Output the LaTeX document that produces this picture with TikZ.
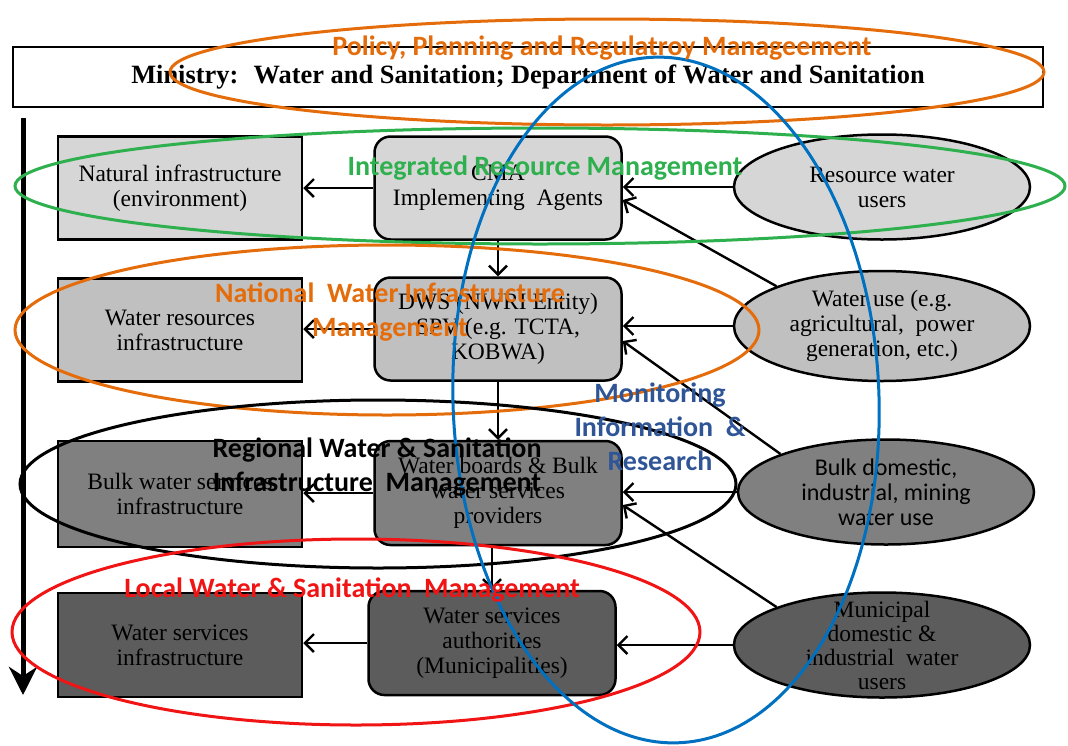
\documentclass[tikz,border=0pt]{standalone}
\usepackage{fontspec}
\setmainfont{Liberation Serif}
\newfontfamily\calibri{Carlito}
\usetikzlibrary{arrows.meta,shapes.geometric}
\definecolor{orng}{HTML}{E46C0A}
\definecolor{grn}{HTML}{2EB04E}
\definecolor{rd}{HTML}{F01414}
\definecolor{blu}{HTML}{0070C0}
\definecolor{dblu}{HTML}{2F5597}
\definecolor{gA}{HTML}{D6D6D6}
\definecolor{gB}{HTML}{C0C0C0}
\definecolor{gC}{HTML}{808080}
\definecolor{gD}{HTML}{5C5C5C}
\begin{document}
\begin{tikzpicture}[x=1pt,y=-1pt,
  box/.style={draw,line width=2.5pt,minimum width=244pt,minimum height=103pt,align=center,inner sep=2pt,font=\fontsize{23.5}{25}\selectfont},
  rbox/.style={box,minimum width=247pt,rounded corners=16pt},
  oval/.style={ellipse,draw,line width=2.5pt,minimum width=296pt,minimum height=105pt,inner sep=0pt},
  ovaltxt/.style={align=center,font=\fontsize{23.5}{25}\selectfont},
  link/.style={line width=2.4pt,-{Straight Barb[length=9pt,width=18pt]}},
  ring/.style={line width=3pt},
  tag/.style={align=center,font=\calibri\bfseries\fontsize{28}{34}\selectfont}]
\useasboundingbox[fill=white] (0,0) rectangle (1068,745);

\node[draw,line width=2.5pt,minimum width=1030pt,minimum height=60pt,font=\bfseries\fontsize{26.4}{30}\selectfont] (ministry) at (528,77)
  {Ministry:~ Water and Sanitation; Department of Water and Sanitation};

\coordinate (flowtop) at (23,118);
\coordinate (flowend) at (23,695);
\draw[line width=5pt,-{Stealth[length=28pt,width=28pt,inset=9pt]}] (flowtop) -- (flowend);

% left column
\node[box,fill=gA] (nat) at (180,188) {Natural infrastructure\\(environment)};
\node[box,fill=gB] (wri) at (180,330) {Water resources\\infrastructure};
\node[box,fill=gC,minimum height=106pt] (bwsi) at (180,494) {Bulk water services\\infrastructure};
\node[box,fill=gD,minimum height=104pt] (wsi) at (180,645) {Water services\\infrastructure};

% middle column
\node[rbox,fill=gA] (cma) at (498,188) {CMA\\Implementing~ Agents};
\node[rbox,fill=gB] (dws) at (498,329) {DWS (NWRI Entity)\\SPV (e.g. TCTA,\\KOBWA)};
\node[rbox,fill=gC,minimum height=104pt] (wb) at (498,493) {Water boards \& Bulk\\water services\\providers};
\node[rbox,fill=gD,minimum height=104pt] (wsa) at (492,643) {Water services\\authorities\\(Municipalities)};

% water users
\node[oval,fill=gA] (res) at (882,187) {};
\node[ovaltxt] at (res) {Resource water\\users};
\node[oval,fill=gB,minimum height=110pt] (use) at (882,326) {};
\node[ovaltxt] at (use) {Water use (e.g.\\agricultural,~ power\\generation, etc.)};
\node[oval,fill=gC] (bulk) at (886,492) {};
\node[ovaltxt,font=\calibri\fontsize{24}{25}\selectfont] at (bulk) {Bulk domestic,\\industrial, mining\\water use};
\node[oval,fill=gD] (mun) at (882,645) {};
\node[ovaltxt,font=\fontsize{23.5}{24}\selectfont] at (mun) {Municipal\\domestic \&\\industrial~ water\\users};

\draw[link] (cma.west) -- (cma.west -| nat.east);
\draw[link] (dws.west) -- (dws.west -| wri.east);
\draw[link] (wb.west) -- (wb.west -| bwsi.east);
\draw[link] (wsa.west) -- (wsa.west -| wsi.east);
\draw[link] (cma) -- (dws);
\draw[link] (dws) -- (wb);
\draw[link] (wb.south -| wsa.north) -- (wsa.north);
\draw[link] (res.west) -- (res.west -| cma.east);
\draw[link] (use.west) -- (use.west -| dws.east);
\draw[link] (bulk.west) -- (bulk.west -| wb.east);
\draw[link] (mun.west) -- (mun.west -| wsa.east);
\draw[link] (use.north west) -- ([yshift=-12pt]cma.east);
\draw[link] (bulk.north west) -- ([yshift=-12pt]dws.east);
\draw[link] (mun.north west) -- ([yshift=-12pt]wb.east);

% management levels
\draw[ring,orng] (607,72) ellipse [x radius=437,y radius=53];
\draw[ring,grn] (540,186) ellipse [x radius=525,y radius=58];
\draw[ring,orng] (387,330) ellipse [x radius=372,y radius=85];
\draw[ring,black] (378,484) ellipse [x radius=358,y radius=84];
\draw[ring,rd] (356,632) ellipse [x radius=344,y radius=93];
\draw[ring,blu,rotate around={2:(666,400)}] (666,400) ellipse [x radius=213,y radius=343];

\node[tag,orng] (policy) at (602,48) {Policy, Planning and Regulatroy Manageement};
\node[tag,grn] (irm) at (545,168) {Integrated Resource Management};
\node[tag,orng] (nwim) at (390,312) {National~ Water Infrastructure\\Management};
\node[tag,black] (rwsim) at (377,467) {Regional Water \& Sanitation\\Infrastructure~ Management};
\node[tag,rd] (lwsm) at (352,590) {Local Water \& Sanitation~ Management};
\node[tag,dblu] (mir) at (660,427) {Monitoring\\Information~ \&\\Research};
\end{tikzpicture}
\end{document}
